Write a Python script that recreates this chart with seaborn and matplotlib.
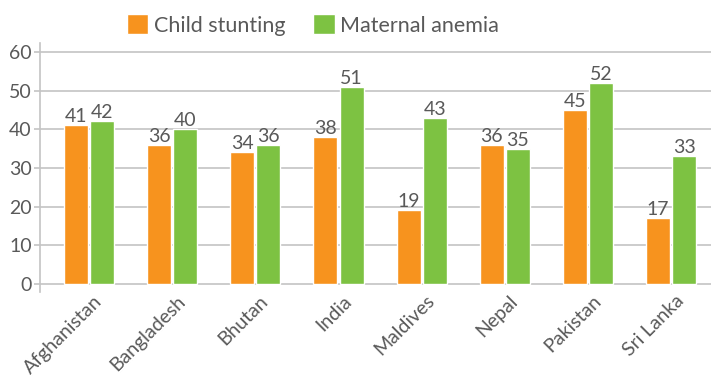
import matplotlib
matplotlib.use("Agg")
import matplotlib.pyplot as plt
import matplotlib.transforms as mtransforms
import seaborn as sns
import pandas as pd

countries = ["Afghanistan", "Bangladesh", "Bhutan", "India",
             "Maldives", "Nepal", "Pakistan", "Sri Lanka"]
child_stunting = [41, 36, 34, 38, 19, 36, 45, 17]
maternal_anemia = [42, 40, 36, 51, 43, 35, 52, 33]
series_names = ["Child stunting", "Maternal anemia"]
y_ticks = [0, 10, 20, 30, 40, 50, 60]

df = pd.DataFrame({
    "country": countries * 2,
    "value": child_stunting + maternal_anemia,
    "series": [series_names[0]] * len(countries) + [series_names[1]] * len(countries),
})

sns.set_style("white")
plt.rcParams["font.family"] = ["Lato", "DejaVu Sans"]

text_color = "#595959"
grid_color = "#c4c4c4"
palette = {"Child stunting": "#F7931E", "Maternal anemia": "#7DC242"}

fig = plt.figure(figsize=(7.11, 3.83), dpi=100)
ax = fig.add_axes([40 / 711, 1 - 292 / 383, 1 - 40 / 711, (292 - 43) / 383])

sns.barplot(
    data=df, x="country", y="value", hue="series", palette=palette,
    width=0.63, gap=0.08, saturation=1, ax=ax,
)

for cont in ax.containers:
    ax.bar_label(cont, padding=0, fontsize=14, color=text_color)

ax.set_xlim(-0.59, 7.48)
ax.set_ylim(-2.1, 62.3)
ax.set_yticks(y_ticks)
ax.yaxis.grid(True, color=grid_color, linewidth=1.2)
ax.set_axisbelow(True)
ax.set_xlabel("")
ax.set_ylabel("")

for side in ["top", "right", "bottom"]:
    ax.spines[side].set_visible(False)
ax.spines["left"].set_color(grid_color)
ax.spines["left"].set_linewidth(1.2)

ax.tick_params(axis="y", left=True, length=4, width=1.2, color=grid_color,
               labelsize=14, labelcolor=text_color, pad=2)
ax.tick_params(axis="x", bottom=False, labelsize=14, labelcolor=text_color, pad=1)
shift = mtransforms.ScaledTranslation(10 / 100, 0, fig.dpi_scale_trans)
for lbl in ax.get_xticklabels():
    lbl.set_rotation(45)
    lbl.set_ha("right")
    lbl.set_va("center")
    lbl.set_rotation_mode("anchor")
    lbl.set_transform(lbl.get_transform() + shift)

handles, labels = ax.get_legend_handles_labels()
ax.get_legend().remove()
fig.legend(
    handles, labels, loc="center", bbox_to_anchor=(0.44, 1 - 25 / 383), ncol=2,
    frameon=False, fontsize=15.5, labelcolor=text_color, handlelength=1.0,
    handleheight=1.0, handletextpad=0.25, columnspacing=1.3,
)

fig.savefig("out.png", dpi=100)
